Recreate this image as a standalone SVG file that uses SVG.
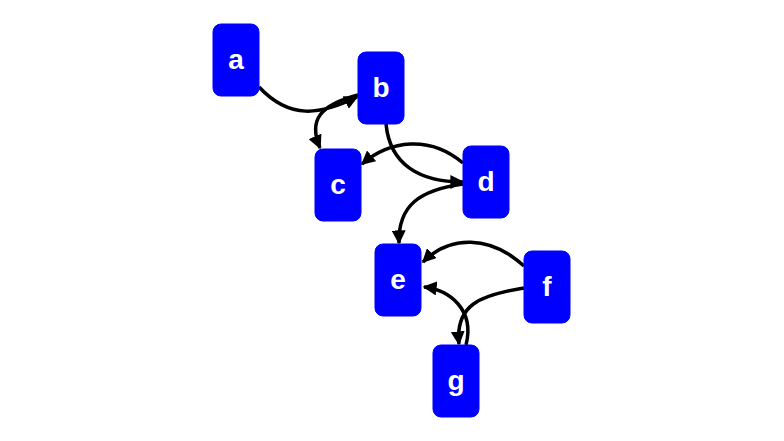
<svg xmlns="http://www.w3.org/2000/svg" width="784" height="441" viewBox="0 0 784 441">
<style>
.n rect{fill:#0000ff;stroke:#0000ff}
.n text{fill:#fff;font-family:"Liberation Sans",Arial,sans-serif;font-weight:bold;font-size:28px;text-anchor:middle}
.e path{fill:none;stroke:#000;stroke-width:3.5;marker-end:url(#ah)}
</style>
<defs><marker id="ah" viewBox="0 0 10 10" refX="9" refY="5" markerWidth="4" markerHeight="4" orient="auto" markerUnits="strokeWidth"><path d="M0,0L10,5L0,10z" fill="#000"/></marker></defs>
<rect width="784" height="441" fill="#fff"/>
<g class="e">
<path d="M259,87 C290,120 320,115 357,97"/>
<path d="M358,95 C320,105 308,120 320,148"/>
<path d="M386,124 C390,165 420,182 463,182"/>
<path d="M463,163 C430,135 390,140 362,164"/>
<path d="M463,184 C420,190 398,205 399,243"/>
<path d="M524,266 C490,235 450,235 423,262"/>
<path d="M524,288 C480,295 455,305 459,344"/>
<path d="M466,345 C475,310 450,290 424,287"/>
</g>
<g id="a" class="n"><rect x="213" y="24" width="46" height="72" rx="8"/><text x="236" y="69">a</text></g>
<g id="b" class="n"><rect x="358" y="52" width="46" height="72" rx="8"/><text x="381" y="97">b</text></g>
<g id="c" class="n"><rect x="315" y="149" width="46" height="72" rx="8"/><text x="338" y="194">c</text></g>
<g id="d" class="n"><rect x="463" y="146" width="46" height="72" rx="8"/><text x="486" y="191">d</text></g>
<g id="e" class="n"><rect x="375" y="244" width="46" height="72" rx="8"/><text x="398" y="289">e</text></g>
<g id="f" class="n"><rect x="524" y="251" width="46" height="72" rx="8"/><text x="547" y="296">f</text></g>
<g id="g" class="n"><rect x="433" y="345" width="46" height="72" rx="8"/><text x="456" y="390">g</text></g>
</svg>
